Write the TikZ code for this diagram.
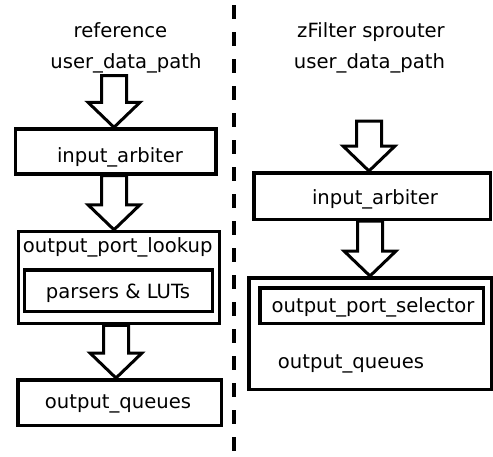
\documentclass[tikz,border=0pt]{standalone}
\usepackage{fontspec}
\setmainfont{DejaVu Sans}
\usetikzlibrary{calc}

% hollow block arrow: shaft starts at #1, tip lies on the y of #2
\newcommand{\fatarrow}[2]{%
\draw[fat] let \p1=#1, \p2=#2 in
  (\x1-12.5pt,\y1) -- (\x1-12.5pt,\y2+25pt) -- (\x1-26pt,\y2+25pt)
  -- (\x1,\y2) -- (\x1+26pt,\y2+25pt) -- (\x1+12.5pt,\y2+25pt)
  -- (\x1+12.5pt,\y1) -- cycle;}

\begin{document}
\begin{tikzpicture}[x=1pt, y=-1pt,
  box/.style={draw, line width=3.5pt, inner sep=0pt},
  txt/.style={anchor=base, inner sep=0pt, font=\fontsize{19.6}{23}\selectfont},
  fat/.style={line width=3pt, line join=miter}]
\useasboundingbox (0,0) rectangle (493,456);

% left: reference
\node[txt] (t_ref) at (120.5,37) {reference};
\node[txt] (t_refpath) at (126,68) {user\_data\_path};
\node[box, minimum width=200.5, minimum height=44.7] (ia_l) at (115.6,151.4) {};
\node[txt] (l_ia) at (120,162) {input\_arbiter};
\node[box, minimum width=201, minimum height=92] (opl) at (119,277.5) {};
\node[txt] (l_opl) at (117.7,252.7) {output\_port\_lookup};
\node[box, minimum width=188, minimum height=41.5] (plut) at (118.5,290.5) {};
\node[txt] (l_plut) at (118,298.3) {parsers \& LUTs};
\node[box, minimum width=203.5, minimum height=45.5] (oq_l) at (119.5,402.5) {};
\node[txt] (l_oq) at (118,408.3) {output\_queues};

\coordinate (a1) at (114,75.5);
\coordinate (a2) at (114,0);
\coordinate (a3) at (116,0);
\fatarrow{(a1)}{(ia_l.north)}
\fatarrow{(a2 |- ia_l.south)}{(opl.north)}
\fatarrow{(a3 |- opl.south)}{(oq_l.north)}

% separator
\coordinate (sep1) at (233.7,5);
\coordinate (sep2) at (233.7,456);
\draw[line width=4pt, dash pattern=on 14pt off 13pt] (sep1) -- (sep2);

% right: zFilter sprouter
\node[txt] (t_zf) at (371,37) {zFilter sprouter};
\node[txt] (t_zfpath) at (369.5,68) {user\_data\_path};
\node[box, minimum width=236.5, minimum height=46.5] (ia_r) at (372,196) {};
\node[txt] (r_ia) at (375,204) {input\_arbiter};
\node[box, minimum width=242.5, minimum height=111.5] (oq_r) at (370,333.5) {};
\node[box, minimum width=223.5, minimum height=35.5] (ops) at (371.5,305.5) {};
\node[txt] (r_ops) at (373,312.3) {output\_port\_selector};
\node[txt] (r_oq) at (351,368) {output\_queues};

\coordinate (b1) at (369,121);
\coordinate (b2) at (370,0);
\fatarrow{(b1)}{(ia_r.north)}
\fatarrow{(b2 |- ia_r.south)}{(oq_r.north)}
\end{tikzpicture}
\end{document}
